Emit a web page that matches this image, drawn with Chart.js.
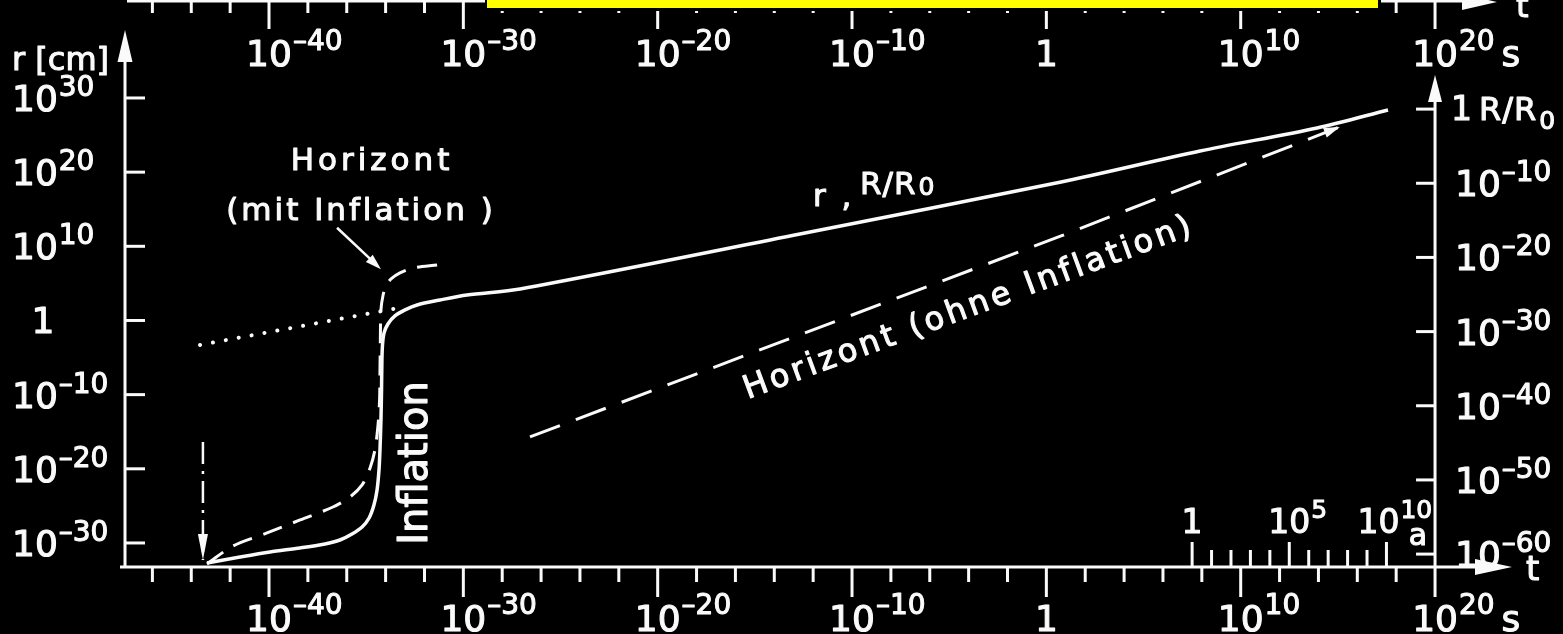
<!DOCTYPE html>
<html lang="de">
<head>
<meta charset="utf-8">
<title>Inflation – r, R/R0 und Horizont</title>
<script src="https://cdn.jsdelivr.net/npm/chart.js@4.4.1/dist/chart.umd.min.js"></script>
<style>
  html, body { margin: 0; padding: 0; background: #000; }
  #wrap { width: 1563px; height: 634px; }
</style>
</head>
<body>
<div id="wrap"><canvas id="chart" width="1563" height="634"></canvas></div>
<script>
// Alle Werte als Zehnerexponenten: t in s, r in cm

// r, R/R0 (mit Inflation)
const scaleT = [-43.19, -41.49, -39.95, -38.40, -37.12, -36.35, -35.73, -35.21, -34.85, -34.60, -34.44, -34.34, -34.29, -34.24, -34.21, -34.19, -34.16, -34.08, -33.88, -33.52, -33.00, -32.38, -31.20, -29.81, -27.08, -12.68, 0.76, 7.91, 13.93, 17.58];
const scaleR = [-32.70, -31.89, -31.21, -30.67, -30.13, -29.60, -28.79, -27.84, -26.63, -24.88, -22.85, -20.16, -17.46, -13.41, -9.37, -5.33, -3.30, -1.68, -0.47, 0.61, 1.42, 2.09, 2.76, 3.44, 4.25, 11.66, 18.67, 22.85, 25.96, 28.38];

// Horizont (mit Inflation)
const horizMitT = [-43.19, -41.85, -40.10, -38.40, -36.71, -35.83, -35.21, -34.80, -34.55, -34.39, -34.31, -34.29, -34.27, -34.24, -34.13, -33.98, -33.72, -33.26, -32.59, -31.35];
const horizMitR = [-32.83, -30.40, -28.65, -26.90, -25.15, -23.80, -22.18, -19.89, -17.46, -14.09, -10.72, -6.67, -2.63, 1.42, 3.44, 4.66, 5.60, 6.41, 7.08, 7.49];

// Horizont (ohne Inflation)
const horizOhneT = [-26.57, 0.76, 15.1];
const horizOhneR = [-15.7, 11.4, 26.1];

// punktiert: Strahlungsära ohne Inflation zurückverlängert
const dotT = [-43.55, -33.5];
const dotR = [-3.3, 1.6];

// Planck-Zeit (strichpunktierter Pfeil)
const planckT = [-43.4, -43.4];
const planckR = [-16.4, -32.3];

// Achsen
const tTicks = [-46, -44, -42, -40, -38, -36, -34, -32, -30, -28, -26, -24, -22, -20, -18, -16, -14, -12, -10, -8, -6, -4, -2, 0, 2, 4, 6, 8, 10, 12, 14, 16, 18, 20];
const tMajor = [-40, -30, -20, -10, 0, 10, 20];
const rTicks = [-30, -20, -10, 0, 10, 20, 30];
const RTicks = [0, -10, -20, -30, -40, -50, -60];
const yearTicks = [0, 1, 2, 3, 4, 5, 6, 7, 8, 9, 10];
const yearMajor = [0, 5, 10];

const YEAR_EXP = 7.5;   // 1 a ≈ 10^7.5 s
const R0_EXP = 28.5;    // R/R0 = 1 bei r ≈ 10^28.5 cm
const T_MIN = -47.41, T_MAX = 23.96;
const R_MIN = -33.24, R_MAX = 42.94;

const INK = '#fafafa';
const FONT = '"DejaVu Sans", "Noto Sans", sans-serif';

const toXY = (xs, ys) => xs.map((x, i) => ({ x, y: ys[i] }));

function line(ctx, x1, y1, x2, y2) {
    ctx.beginPath();
    ctx.moveTo(x1, y1);
    ctx.lineTo(x2, y2);
    ctx.stroke();
}

function arrow(ctx, x, y, angle, len, half) {
    ctx.save();
    ctx.translate(x, y);
    ctx.rotate(angle);
    ctx.beginPath();
    ctx.moveTo(0, 0);
    ctx.lineTo(-len, -half);
    ctx.lineTo(-len, half);
    ctx.closePath();
    ctx.fill();
    ctx.restore();
}

// Text etwas kräftiger (Füllung + dünne Kontur), gibt rechtes Ende zurück
function text(ctx, str, x, y, size, align, spacing) {
    ctx.save();
    ctx.font = size + 'px ' + FONT;
    ctx.letterSpacing = (spacing || 0) + 'px';
    ctx.textAlign = align || 'left';
    ctx.lineWidth = 1.1;
    ctx.lineJoin = 'round';
    ctx.fillText(str, x, y);
    ctx.strokeText(str, x, y);
    const w = ctx.measureText(str).width;
    ctx.restore();
    return align === 'center' ? x + w / 2 : x + w;
}

// "10^n" – mode 'center': Basis über x zentriert, 'left': beginnt bei x
function powLabel(ctx, exp, x, y, mode, base, sup, rise) {
    if (exp === 0) {
        return text(ctx, '1', x, y, base, mode === 'center' ? 'center' : 'left');
    }
    ctx.font = base + 'px ' + FONT;
    const wb = ctx.measureText('10').width;
    const x0 = mode === 'center' ? x - wb / 2 : x;
    text(ctx, '10', x0, y, base);
    const es = (exp < 0 ? '–' : '') + Math.abs(exp);
    return text(ctx, es, x0 + wb + 1, y - rise, sup);
}

const achsen = {
    id: 'achsen',
    afterDatasetsDraw(chart) {
        const { ctx, chartArea: a, scales: { x, y, y2 } } = chart;
        const xr = x.getPixelForValue(20);
        ctx.save();
        ctx.strokeStyle = INK;
        ctx.fillStyle = INK;
        ctx.lineWidth = 3;
        ctx.textBaseline = 'alphabetic';

        // Achsenlinien mit Pfeilen
        line(ctx, a.left - 5, a.bottom, a.right - 20, a.bottom);
        arrow(ctx, a.right, a.bottom, 0, 37, 8);
        line(ctx, a.left, a.bottom + 1, a.left, 50);
        arrow(ctx, a.left, 30, -Math.PI / 2, 32, 7.5);
        line(ctx, a.left + 2, 1, 1480, 1);
        arrow(ctx, 1497, 2, 0, 35, 8);
        line(ctx, xr, a.bottom, xr, 95);
        arrow(ctx, xr, 75, -Math.PI / 2, 27, 7);

        // t-Achsen unten und oben
        tTicks.forEach(v => {
            const px = x.getPixelForValue(v);
            const major = tMajor.includes(v);
            line(ctx, px, a.bottom, px, a.bottom + (major ? 30 : 15));
            line(ctx, px, 0, px, major ? 29 : 13);
        });
        tMajor.forEach(v => {
            const px = x.getPixelForValue(v);
            const endB = powLabel(ctx, v, px, 631, 'center', 36, 28, 17);
            const endT = powLabel(ctx, v, px, 66, 'center', 36, 28, 16);
            if (v === 20) {
                text(ctx, 's', endB + 7, 631, 36);
                text(ctx, 's', endT + 7, 66, 36);
            }
        });
        text(ctx, 't', 1526, 580, 34);
        text(ctx, 't', 1516, 17, 32);

        // r-Achse links
        rTicks.forEach(v => {
            const py = y.getPixelForValue(v);
            line(ctx, a.left, py, a.left + 20, py);
            if (v === 0) text(ctx, '1', 43, py + 13, 36, 'center');
            else powLabel(ctx, v, 12, py + 13, 'left', 36, 28, 15);
        });
        text(ctx, 'r [cm]', 12, 70, 32);

        // R/R0-Achse rechts
        RTicks.forEach(v => {
            const py = y2.getPixelForValue(v);
            line(ctx, xr - 19, py, xr, py);
            if (v === 0) {
                text(ctx, '1', 1451, py + 11, 33);
                const e = text(ctx, 'R/R', 1479, py + 11, 32, 'left', 1);
                text(ctx, '0', e + 2, py + 20, 25);
            } else {
                powLabel(ctx, v, 1455, py + 13, 'left', 36, 28, 15);
            }
        });

        // Zeit in Jahren (kleine Skala)
        yearTicks.forEach(v => {
            const px = x.getPixelForValue(v + YEAR_EXP);
            line(ctx, px, a.bottom, px, a.bottom - (yearMajor.includes(v) ? 25 : 17));
        });
        yearMajor.forEach((v, i) => {
            const px = x.getPixelForValue(v + YEAR_EXP) - (i === 2 ? 8 : 0);
            powLabel(ctx, v, px, 533, 'center', 33, 25, 15);
        });
        text(ctx, 'a', 1418, 545, 30, 'center');

        // Planck-Pfeil
        const pm = chart.getDatasetMeta(4).data;
        arrow(ctx, pm[1].x, pm[1].y, Math.PI / 2, 26, 5);

        // Pfeil am Ende "Horizont (ohne Inflation)"
        const hm = chart.getDatasetMeta(2).data;
        const p1 = hm[hm.length - 2], p2 = hm[hm.length - 1];
        arrow(ctx, p2.x, p2.y, Math.atan2(p2.y - p1.y, p2.x - p1.x), 16, 5);

        // Hinweispfeil "mit Inflation"
        const ax1 = x.getPixelForValue(-36.5), ay1 = y.getPixelForValue(12.5);
        const ax2 = x.getPixelForValue(-34.24), ay2 = y.getPixelForValue(6.9);
        ctx.lineWidth = 2.5;
        line(ctx, ax1, ay1, ax2 - 6, ay2 - 6);
        arrow(ctx, ax2, ay2, Math.atan2(ay2 - ay1, ax2 - ax1), 16, 5);

        // Beschriftungen
        text(ctx, 'Horizont', 372, 170, 31, 'center', 4);
        text(ctx, '(mit Inflation )', 361, 220, 31, 'center', 3);
        text(ctx, 'r ,', 813, 206, 31, 'left', 3);
        const e = text(ctx, 'R/R', 860, 194, 31, 'left', 1);
        text(ctx, '0', e + 2, 195, 25);

        ctx.save();
        ctx.translate(427, 463);
        ctx.rotate(-Math.PI / 2);
        text(ctx, 'Inflation', 0, 0, 40, 'center');
        ctx.restore();

        ctx.save();
        ctx.translate(972, 316);
        ctx.rotate(-20.3 * Math.PI / 180);
        text(ctx, 'Horizont (ohne Inflation)', 0, 0, 32, 'center', 3.5);
        ctx.restore();

        // gelber Balken oben
        ctx.fillStyle = '#000';
        ctx.fillRect(485, 0, 896, 11);
        ctx.fillStyle = '#ffff00';
        ctx.fillRect(487, 0, 891, 8);

        ctx.restore();
    }
};

const ctx = document.getElementById('chart').getContext('2d');

new Chart(ctx, {
    type: 'line',
    data: {
        datasets: [
            {
                label: 'r, R/R0',
                data: toXY(scaleT, scaleR),
                borderColor: INK,
                borderWidth: 3.5,
                tension: 0.3
            },
            {
                label: 'Horizont (mit Inflation)',
                data: toXY(horizMitT, horizMitR),
                borderColor: INK,
                borderWidth: 3,
                borderDash: [20, 12],
                tension: 0.3
            },
            {
                label: 'Horizont (ohne Inflation)',
                data: toXY(horizOhneT, horizOhneR),
                borderColor: INK,
                borderWidth: 3,
                borderDash: [32, 17]
            },
            {
                label: 'ohne Inflation',
                data: toXY(dotT, dotR),
                borderColor: INK,
                borderWidth: 4,
                borderCapStyle: 'round',
                borderDash: [0.1, 13]
            },
            {
                label: 'Planck-Zeit',
                data: toXY(planckT, planckR),
                borderColor: INK,
                borderWidth: 2.5,
                borderDash: [22, 7, 3, 7]
            }
        ]
    },
    options: {
        responsive: false,
        animation: false,
        devicePixelRatio: 1,
        events: [],
        elements: { point: { radius: 0 }, line: { fill: false } },
        layout: { padding: { left: 125, right: 51, top: 2, bottom: 67 } },
        plugins: { legend: { display: false }, tooltip: { enabled: false } },
        scales: {
            x: { type: 'linear', min: T_MIN, max: T_MAX, display: false },
            y: { type: 'linear', min: R_MIN, max: R_MAX, display: false },
            y2: { type: 'linear', position: 'right', min: R_MIN - R0_EXP, max: R_MAX - R0_EXP, display: false }
        }
    },
    plugins: [achsen]
});
</script>
</body>
</html>
